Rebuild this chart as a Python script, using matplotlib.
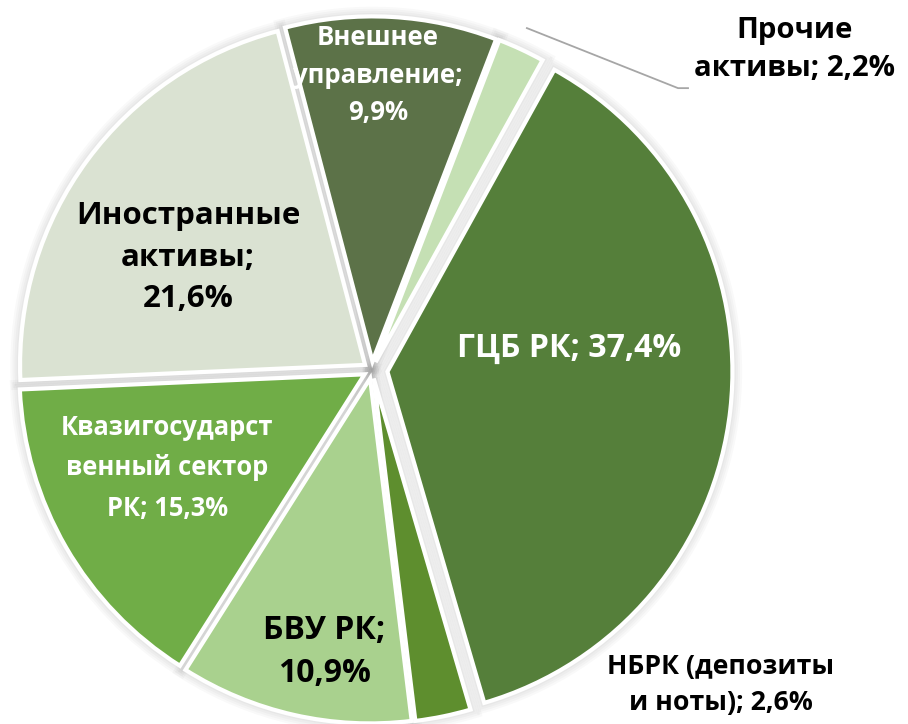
import matplotlib.pyplot as plt

# data
labels = ["Прочие\nактивы; 2,2%", "ГЦБ РК; 37,4%", "НБРК (депозиты\nи ноты); 2,6%",
          "БВУ РК;\n10,9%", "Квазигосударст\nвенный сектор\nРК; 15,3%",
          "Иностранные\nактивы;\n21,6%", "Внешнее\nуправление;\n9,9%"]
shares = [2.2, 37.4, 2.6, 10.9, 15.3, 21.6, 9.9]
colors = ["#c5e0b4", "#557f3a", "#5e8e2e", "#a9d18e", "#70ad47", "#dae2d2", "#5c7248"]
text_colors = ["black", "white", "black", "black", "white", "black", "white"]

# layout
explode = [0.025, 0.045, 0.025, 0.025, 0.025, 0.025, 0.025]
label_pos = [(1.226, 0.928), (0.571, 0.064), (1.01, -0.913), (-0.139, -0.817),
             (-0.594, -0.284), (-0.533, 0.325), (0.017, 0.855)]
font_sizes = [21.2, 23, 19.2, 23, 18.4, 22.5, 18.5]
line_sp = [1.42, 1.2, 1.49, 1.39, 1.65, 1.5, 1.48]

plt.rcParams['font.family'] = ['Open Sans', 'DejaVu Sans']

fig = plt.figure(figsize=(9.08, 7.24), dpi=100)
R = 345
cx, cy = 372, 370
ax = fig.add_axes([(cx - R) / 908, (724 - cy - R) / 724, 2 * R / 908, 2 * R / 724])

# soft shadow under the slices
for lw in (14, 11, 8, 5):
    ax.pie(shares, explode=explode, startangle=69, counterclock=False,
           wedgeprops=dict(facecolor="none", edgecolor=(0, 0, 0, 0.025), linewidth=lw))

wedges, _ = ax.pie(shares, colors=colors, explode=explode, startangle=69,
                   counterclock=False, radius=1.0,
                   wedgeprops=dict(edgecolor="white", linewidth=3))
ax.set_xlim(-1, 1)
ax.set_ylim(-1, 1)

for lab, (x, y), tc, fs, ls in zip(labels, label_pos, text_colors, font_sizes, line_sp):
    ax.text(x, y, lab, ha="center", va="center", color=tc, fontsize=fs,
            fontweight="bold", linespacing=ls, clip_on=False)

# leader line for "Прочие активы"
ax.plot([0.449, 0.887, 0.916], [0.991, 0.817, 0.817], color="#a6a6a6",
        lw=1.3, clip_on=False)

fig.savefig("out.png", dpi=100)
